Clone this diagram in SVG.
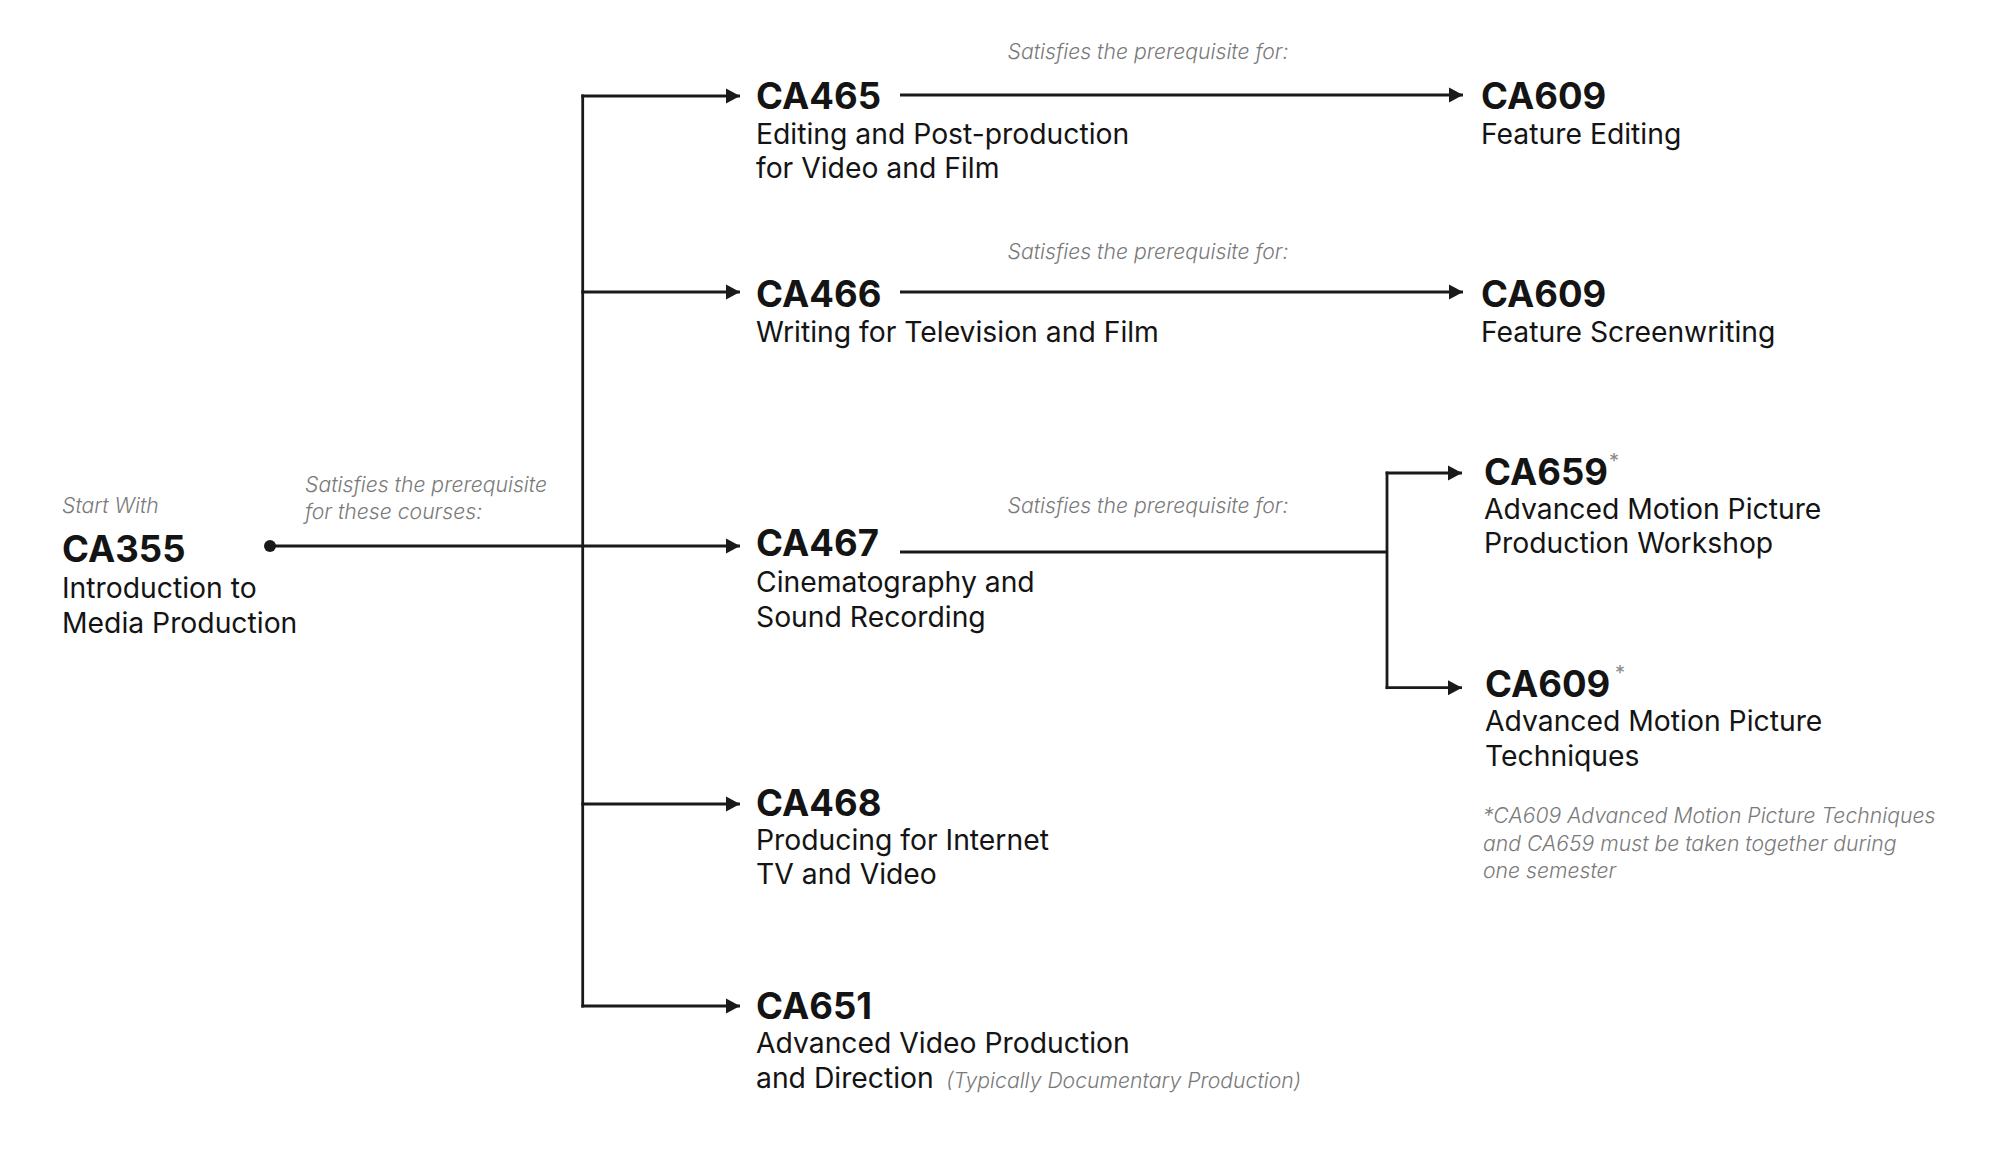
<svg xmlns="http://www.w3.org/2000/svg" width="2000" height="1152" viewBox="0 0 2000 1152">
<style>
  text { font-family: "Inter", "Liberation Sans", sans-serif; fill: #141414; }
  .t { font-size: 36.5px; font-weight: 700; }
  .s { font-size: 28.3px; font-weight: 400; }
  .l { font-size: 21.2px; font-weight: 300; font-style: italic; fill: #7a7a7a; }
  .star { font-size: 20px; font-weight: 400; fill: #888888; }
  .c { stroke: #1a1a1a; stroke-width: 2.8; fill: none; }
</style>
<defs>
  <marker id="arr" markerUnits="userSpaceOnUse" markerWidth="15" markerHeight="16" refX="14" refY="8" orient="auto">
    <path d="M0,0.5 L14,8 L0,15.5 z" fill="#1a1a1a"/>
  </marker>
</defs>
<rect width="2000" height="1152" fill="#ffffff"/>

<g id="connectors">
  <circle cx="270" cy="546" r="6" fill="#1a1a1a"/>
  <line class="c" x1="270" y1="546" x2="740" y2="546" marker-end="url(#arr)"/>
  <line class="c" x1="582.7" y1="94.6" x2="582.7" y2="1007.4"/>
  <line class="c" x1="581.3" y1="96" x2="740" y2="96" marker-end="url(#arr)"/>
  <line class="c" x1="581.3" y1="292" x2="740" y2="292" marker-end="url(#arr)"/>
  <line class="c" x1="581.3" y1="804" x2="740" y2="804" marker-end="url(#arr)"/>
  <line class="c" x1="581.3" y1="1006" x2="740" y2="1006" marker-end="url(#arr)"/>
  <line class="c" x1="900" y1="95" x2="1463" y2="95" marker-end="url(#arr)"/>
  <line class="c" x1="900" y1="292" x2="1463" y2="292" marker-end="url(#arr)"/>
  <line class="c" x1="900" y1="552" x2="1387" y2="552"/>
  <line class="c" x1="1387" y1="471.6" x2="1387" y2="689.1"/>
  <line class="c" x1="1385.6" y1="473" x2="1462" y2="473" marker-end="url(#arr)"/>
  <line class="c" x1="1385.6" y1="687.7" x2="1462" y2="687.7" marker-end="url(#arr)"/>
</g>

<g id="labels">
  <text class="l" x="305" y="492">Satisfies the prerequisite</text>
  <text class="l" x="305" y="519">for these courses:</text>
  <text class="l" x="1148" y="59" text-anchor="middle">Satisfies the prerequisite for:</text>
  <text class="l" x="1148" y="259" text-anchor="middle">Satisfies the prerequisite for:</text>
  <text class="l" x="1148" y="513" text-anchor="middle">Satisfies the prerequisite for:</text>
</g>

<g id="ca355">
  <text class="l" x="62" y="513">Start With</text>
  <text class="t" x="62" y="562">CA355</text>
  <text class="s" x="62" y="598">Introduction to</text>
  <text class="s" x="62" y="633">Media Production</text>
</g>

<g id="ca465">
  <text class="t" x="756" y="109">CA465</text>
  <text class="s" x="756" y="144">Editing and Post-production</text>
  <text class="s" x="756" y="178">for Video and Film</text>
</g>

<g id="ca466">
  <text class="t" x="756" y="307">CA466</text>
  <text class="s" x="756" y="342">Writing for Television and Film</text>
</g>

<g id="ca467">
  <text class="t" x="756" y="556">CA467</text>
  <text class="s" x="756" y="592">Cinematography and</text>
  <text class="s" x="756" y="627">Sound Recording</text>
</g>

<g id="ca468">
  <text class="t" x="756" y="816">CA468</text>
  <text class="s" x="756" y="850">Producing for Internet</text>
  <text class="s" x="756" y="884">TV and Video</text>
</g>

<g id="ca651">
  <text class="t" x="756" y="1019">CA651</text>
  <text class="s" x="756" y="1053">Advanced Video Production</text>
  <text class="s" x="756" y="1088">and Direction</text>
  <text class="l" x="946" y="1088">(Typically Documentary Production)</text>
</g>

<g id="ca609-editing">
  <text class="t" x="1481" y="109">CA609</text>
  <text class="s" x="1481" y="144">Feature Editing</text>
</g>

<g id="ca609-screenwriting">
  <text class="t" x="1481" y="307">CA609</text>
  <text class="s" x="1481" y="342">Feature Screenwriting</text>
</g>

<g id="ca659">
  <text class="t" x="1484" y="485">CA659</text>
  <text class="star" x="1609" y="468">*</text>
  <text class="s" x="1484" y="519">Advanced Motion Picture</text>
  <text class="s" x="1484" y="553">Production Workshop</text>
</g>

<g id="ca609-techniques">
  <text class="t" x="1485" y="697">CA609</text>
  <text class="star" x="1615" y="680">*</text>
  <text class="s" x="1485" y="731">Advanced Motion Picture</text>
  <text class="s" x="1485" y="766">Techniques</text>
</g>

<g id="footnote">
  <text class="l" x="1483" y="823">*CA609 Advanced Motion Picture Techniques</text>
  <text class="l" x="1483" y="851">and CA659 must be taken together during</text>
  <text class="l" x="1483" y="878">one semester</text>
</g>
</svg>
